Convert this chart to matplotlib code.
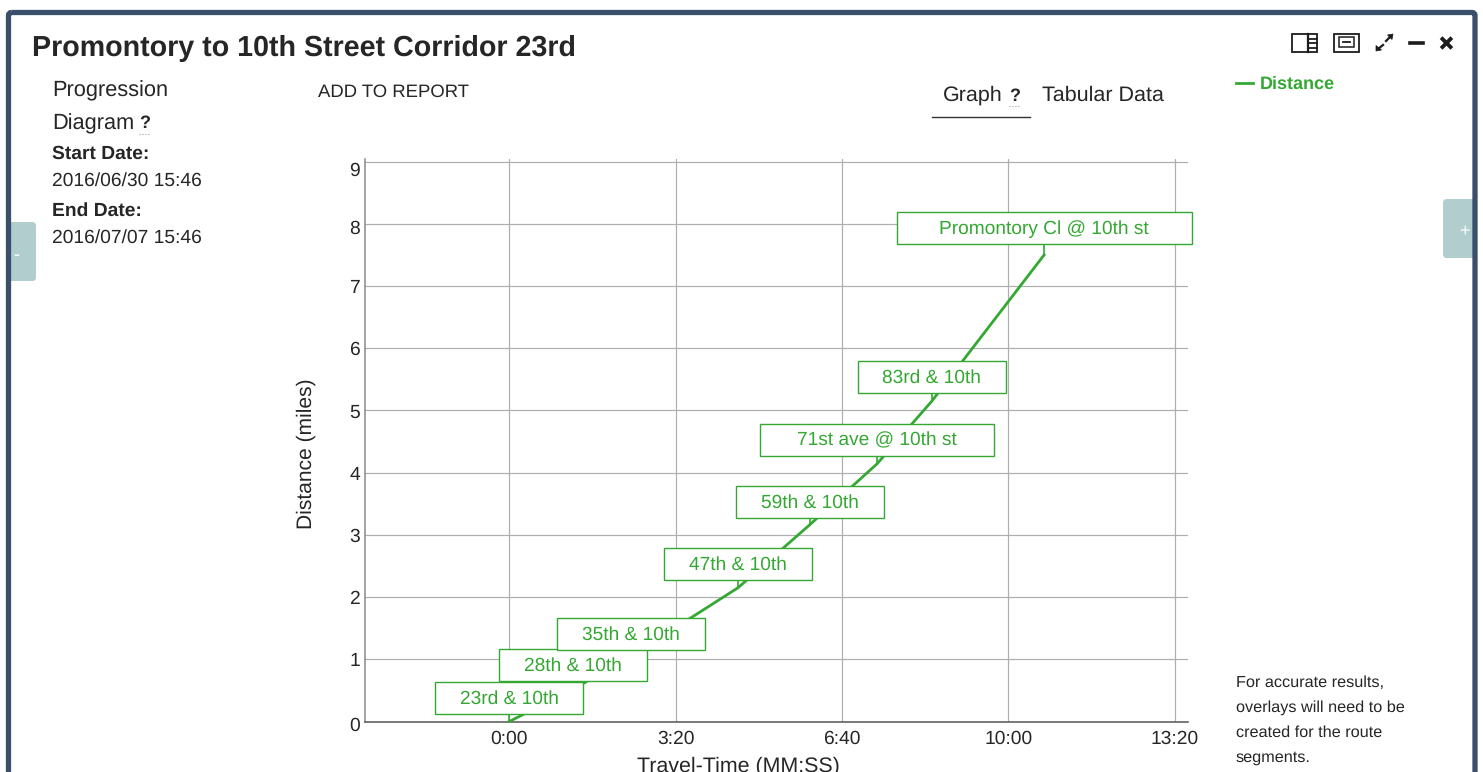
import matplotlib
matplotlib.use("Agg")
import matplotlib.pyplot as plt
from matplotlib.patches import Rectangle, FancyBboxPatch, Polygon
from matplotlib.ticker import FuncFormatter, FixedLocator
from matplotlib.transforms import Affine2D, ScaledTranslation

plt.rcParams['font.family'] = ['Liberation Sans', 'DejaVu Sans']
plt.rcParams['text.hinting'] = 'none'

# data
stops = ['23rd & 10th', '28th & 10th', '35th & 10th', '47th & 10th', '59th & 10th',
         '71st ave @ 10th st', '83rd & 10th', 'Promontory Cl @ 10th st']
travel_seconds = [0, 77, 146, 275, 361, 442, 508, 643]
distance_miles = [0, 0.52, 1.05, 2.15, 3.16, 4.14, 5.15, 7.5]
x_ticks = [0, 200, 400, 600, 800]
y_ticks = [0, 1, 2, 3, 4, 5, 6, 7, 8, 9]

# style
GREEN = '#35a833'
GRID = '#aeaeae'
DARK = '#262626'
FRAME = '#3a4f6b'
TAB = '#b1cdcd'
W, H = 1483, 772
box_widths = [148, 148, 148, 148, 148, 234, 148, 295]
box_gaps = [8, 8, 6, 8, 7, 8, 8, 11]
BOX_H = 32
fs = lambda px: px * 0.72

fig = plt.figure(figsize=(W / 100, H / 100), dpi=100, facecolor='white')

# page overlay in pixel coordinates
ui = fig.add_axes([0, 0, 1, 1], zorder=0)
ui.set_xlim(0, W)
ui.set_ylim(H, 0)
ui.axis('off')
ui.add_patch(FancyBboxPatch((8, 222), 28, 59, boxstyle='round,pad=0,rounding_size=4', fc=TAB, ec='none'))
ui.add_patch(FancyBboxPatch((1443, 199), 34, 59, boxstyle='round,pad=0,rounding_size=4', fc=TAB, ec='none'))
ui.add_patch(FancyBboxPatch((8.5, 12.5), 1466.5, 900, boxstyle='round,pad=0,rounding_size=3',
                            fc='none', ec=FRAME, lw=3.8))
ui.text(16, 255, '-', color='white', fontsize=fs(18), ha='center', va='center')
ui.text(1464, 231, '+', color='white', fontsize=fs(18), ha='center', va='center')


def t(x, y, s, px, weight='normal', color=DARK, **kw):
    ui.text(x, y + 1.5, s, fontsize=fs(px), fontweight=weight, color=color, va='center', **kw)


t(32, 47, 'Promontory to 10th Street Corridor 23rd', 28.6, 'bold')
t(52, 89, 'Progression', 21.8)
t(52, 122, 'Diagram', 21.8)
t(139, 122, '?', 18, 'bold')
ui.plot([139, 150], [133.5, 133.5], color='#999999', lw=0.8, ls=':')
t(52, 152.5, 'Start Date:', 19.3, 'bold')
t(52, 179.5, '2016/06/30 15:46', 19.3)
t(52, 209.5, 'End Date:', 19.3, 'bold')
t(52, 236.5, '2016/07/07 15:46', 19.3)
t(318, 91, 'ADD TO REPORT', 18.5)
t(943, 94, 'Graph', 21.5)
t(1009, 95, '?', 18, 'bold')
ui.plot([1009, 1020], [106, 106], color='#999999', lw=0.8, ls=':')
t(1042, 94, 'Tabular Data', 21.5)
ui.plot([932, 1030], [116.5, 116.5], color='#333333', lw=1.0)
for yy, line in zip([681.5, 706.5, 731.5, 756.5],
                    ['For accurate results,', 'overlays will need to be',
                     'created for the route', 'segments.']):
    t(1236, yy, line, 16.3)

# window icons
ICON = '#1c1c1c'
ui.add_patch(Rectangle((1292, 34), 25, 18, fc='none', ec=ICON, lw=1.3))
ui.plot([1308, 1308], [34, 52], color=ICON, lw=1.6)
for yy in (38.5, 43, 47.5):
    ui.plot([1309, 1317], [yy, yy], color=ICON, lw=1.3)
ui.add_patch(Rectangle((1334, 34), 25, 18, fc='none', ec=ICON, lw=1.3))
ui.add_patch(Rectangle((1339, 37), 15, 10, fc='none', ec=ICON, lw=1.1))
ui.plot([1343, 1350], [41.5, 41.5], color=ICON, lw=1.3)
ui.plot([1378, 1383], [49, 45], color=ICON, lw=1.6)
ui.plot([1386, 1391], [41, 36], color=ICON, lw=1.6)
ui.add_patch(Polygon([[1376, 51], [1376, 45.5], [1381.5, 50]], fc=ICON, ec=ICON, lw=0.5))
ui.add_patch(Polygon([[1393, 34], [1387.5, 35], [1392, 39.5]], fc=ICON, ec=ICON, lw=0.5))
ui.plot([1410, 1423], [42.5, 42.5], color=ICON, lw=2.6)
ui.plot([1442.5, 1450.5], [39, 47], color=ICON, lw=2.8)
ui.plot([1442.5, 1450.5], [47, 39], color=ICON, lw=2.8)

# chart
ax_left, ax_right, ax_top, ax_bottom = 365, 1188, 158.5, 721.5
ax = fig.add_axes([ax_left / W, 1 - ax_bottom / H, (ax_right - ax_left) / W, (ax_bottom - ax_top) / H],
                  zorder=1)
ax.patch.set_alpha(0)
ax.set_xlim(-173.5, 816)
ax.set_ylim(0, 9.05)
ax.xaxis.set_major_locator(FixedLocator(x_ticks))
ax.yaxis.set_major_locator(FixedLocator(y_ticks))
ax.xaxis.set_major_formatter(FuncFormatter(lambda v, _: f'{int(v) // 60}:{int(v) % 60:02d}'))
ax.grid(True, color=GRID, lw=0.85)
ax.set_axisbelow(True)
ax.tick_params(length=0, labelsize=fs(19.3), labelcolor=DARK, pad=3.5)
ax.tick_params(axis='x', pad=6)
for side in ('top', 'right'):
    ax.spines[side].set_visible(False)
ax.spines['left'].set_color('#8a8a8a')
ax.spines['bottom'].set_color('#555555')
ax.spines['left'].set_linewidth(1.1)
ax.spines['bottom'].set_linewidth(1.1)
ax.set_xlabel('Travel-Time (MM:SS)', fontsize=fs(21.4), color=DARK)
ax.xaxis.set_label_coords((738 - ax_left) / (ax_right - ax_left), -(756 - ax_bottom) / (ax_bottom - ax_top))
ax.xaxis.label.set_va('top')
ax.set_ylabel('Distance (miles)', fontsize=fs(21), color=DARK)
ax.yaxis.set_label_coords(-(ax_left - 316) / (ax_right - ax_left), 0.475)

# tick labels in the source sit slightly off their gridlines near the ends
for lab, off in zip(ax.get_yticklabels(), [-2, 0, 0, 0, 0, 0, 0, 0, -3, -7]):
    lab.set_transform(lab.get_transform() + ScaledTranslation(0, off / 100, fig.dpi_scale_trans))

ax.plot(travel_seconds, distance_miles, color=GREEN, lw=2.0, label='Distance', zorder=3,
        solid_joinstyle='round')

for name, tv, dv, bw, gap in zip(stops, travel_seconds, distance_miles, box_widths, box_gaps):
    px, py = ax.transData.transform((tv, dv))
    tr = Affine2D().translate(px, py)
    ax.plot([0, 0], [0, gap], transform=tr, color=GREEN, lw=1.2, zorder=4, clip_on=False)
    ax.add_patch(Rectangle((-bw / 2, gap), bw, BOX_H, transform=tr, fc='white', ec=GREEN,
                           lw=1.0, zorder=5, clip_on=False))
    ax.text(0, gap + BOX_H / 2 - 1, name, transform=tr, ha='center', va='center', color=GREEN,
            fontsize=fs(19.2), zorder=6, clip_on=False)

leg = ax.legend(loc='center left', bbox_to_anchor=(1236 / W, 1 - 84.5 / H),
                bbox_transform=fig.transFigure, frameon=False, borderpad=0, borderaxespad=0,
                handlelength=0.95, handletextpad=0.35, labelcolor=GREEN,
                prop={'weight': 'bold', 'size': fs(18), 'family': ['Liberation Sans']})

fig.savefig('out.png', dpi=100, facecolor='white')
